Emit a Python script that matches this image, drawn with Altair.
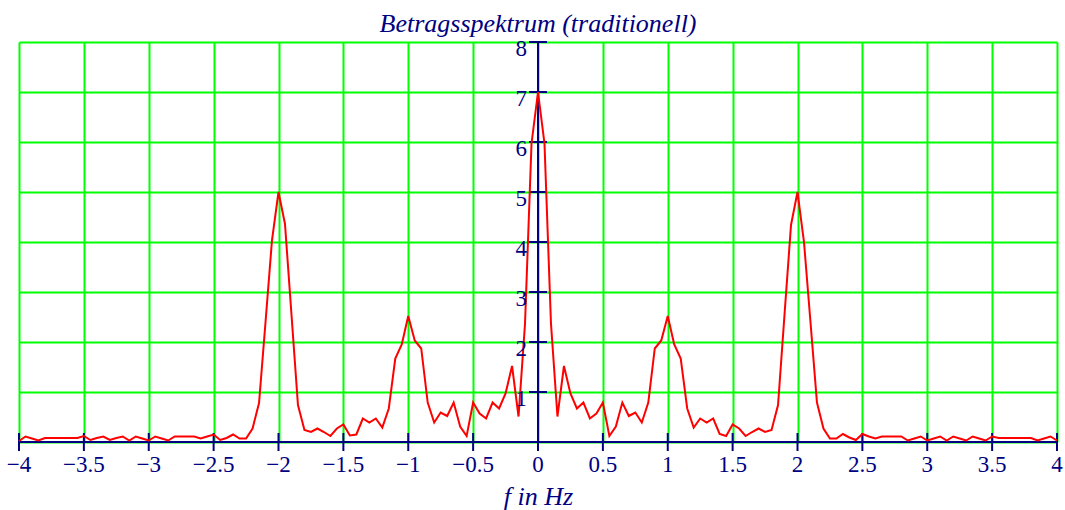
import altair as alt
import pandas as pd

# ---- data ----
freq = [round(-4 + 0.05 * i, 2) for i in range(161)]  # frequency grid, step 0.05 Hz

magnitude = [
    # -4.00 .. -3.55
    0.02, 0.11, 0.07, 0.03, 0.08, 0.08, 0.08, 0.08, 0.08, 0.08,
    # -3.50 .. -3.05
    0.12, 0.04, 0.08, 0.11, 0.04, 0.08, 0.11, 0.03, 0.11, 0.07,
    # -3.00 .. -2.55
    0.03, 0.11, 0.07, 0.03, 0.11, 0.11, 0.11, 0.11, 0.07, 0.11,
    # -2.50 .. -2.05
    0.15, 0.04, 0.08, 0.15, 0.07, 0.07, 0.27, 0.78, 2.40, 4.04,
    # -2.00 .. -1.55
    5.00, 4.36, 2.55, 0.74, 0.24, 0.20, 0.27, 0.20, 0.12, 0.27,
    # -1.50 .. -1.05
    0.35, 0.13, 0.15, 0.47, 0.39, 0.47, 0.29, 0.67, 1.67, 1.95,
    # -1.00 .. -0.55
    2.52, 2.03, 1.87, 0.79, 0.39, 0.59, 0.52, 0.79, 0.31, 0.12,
    # -0.50 .. -0.05
    0.79, 0.57, 0.47, 0.79, 0.67, 0.97, 1.52, 0.51, 2.37, 5.97,
    # 0.00
    7.00,
    # 0.05 .. 0.50
    5.97, 2.37, 0.51, 1.52, 0.97, 0.67, 0.79, 0.47, 0.57, 0.79,
    # 0.55 .. 1.00
    0.12, 0.31, 0.79, 0.52, 0.59, 0.39, 0.79, 1.87, 2.03, 2.52,
    # 1.05 .. 1.50
    1.95, 1.67, 0.67, 0.29, 0.47, 0.39, 0.47, 0.16, 0.12, 0.35,
    # 1.55 .. 2.00
    0.27, 0.12, 0.20, 0.27, 0.20, 0.24, 0.74, 2.55, 4.34, 5.00,
    # 2.05 .. 2.50
    4.00, 2.40, 0.79, 0.27, 0.07, 0.07, 0.16, 0.09, 0.04, 0.16,
    # 2.55 .. 3.00
    0.11, 0.07, 0.11, 0.11, 0.11, 0.11, 0.03, 0.07, 0.11, 0.03,
    # 3.05 .. 3.50
    0.07, 0.11, 0.03, 0.11, 0.07, 0.03, 0.11, 0.07, 0.03, 0.11,
    # 3.55 .. 4.00
    0.08, 0.08, 0.08, 0.08, 0.08, 0.08, 0.03, 0.07, 0.11, 0.03,
]

x_ticks = [-4, -3.5, -3, -2.5, -2, -1.5, -1, -0.5, 0, 0.5, 1, 1.5, 2, 2.5, 3, 3.5, 4]
x_tick_labels = ["\u22124", "\u22123.5", "\u22123", "\u22122.5", "\u22122", "\u22121.5",
                 "\u22121", "\u22120.5", "0", "0.5", "1", "1.5", "2", "2.5", "3", "3.5", "4"]
y_grid = [0, 1, 2, 3, 4, 5, 6, 7, 8]
y_ticks = [1, 2, 3, 4, 5, 6, 7, 8]
y_tick_labels = ["1", "2", "3", "4", "5", "6", "7", "8"]

# ---- styling ----
NAVY = "#000080"
GREEN = "#00ff00"
FONT = "Liberation Serif"

x_scale = alt.Scale(domain=[x_ticks[0], x_ticks[-1]], nice=False, zero=False)
y_scale = alt.Scale(domain=[y_grid[0], y_grid[-1]], nice=False, zero=False)

spec_df = pd.DataFrame({"f": freq, "A": magnitude})
xt_df = pd.DataFrame({"f": x_ticks, "A": [0] * len(x_ticks), "label": x_tick_labels})
yt_df = pd.DataFrame({"f": [0] * len(y_ticks), "A": y_ticks, "label": y_tick_labels})
xaxis_df = pd.DataFrame({"f": [x_ticks[0]], "f2": [x_ticks[-1]], "A": [0]})
yaxis_df = pd.DataFrame({"f": [0], "A": [y_grid[0]], "A2": [y_grid[-1]]})

line = alt.Chart(spec_df).mark_line(color="#ff0000", strokeWidth=2).encode(
    x=alt.X("f:Q", scale=x_scale,
            axis=alt.Axis(values=x_ticks, grid=True, gridColor=GREEN, gridWidth=2,
                          gridOpacity=1, labels=False, ticks=False, domain=False,
                          title="f in Hz", titleFont=FONT, titleFontStyle="italic",
                          titleFontWeight="normal", titleFontSize=26, titleColor=NAVY,
                          titleBaseline="alphabetic", titleY=62)),
    y=alt.Y("A:Q", scale=y_scale,
            axis=alt.Axis(values=y_grid, grid=True, gridColor=GREEN, gridWidth=2,
                          gridOpacity=1, labels=False, ticks=False, domain=False,
                          title=None)),
)

x_axis_line = alt.Chart(xaxis_df).mark_rule(color=NAVY, strokeWidth=2).encode(
    x=alt.X("f:Q", scale=x_scale), x2="f2:Q", y=alt.Y("A:Q", scale=y_scale)
)
y_axis_line = alt.Chart(yaxis_df).mark_rule(color=NAVY, strokeWidth=2).encode(
    x=alt.X("f:Q", scale=x_scale), y=alt.Y("A:Q", scale=y_scale), y2="A2:Q"
)

x_tick_marks = alt.Chart(xt_df).mark_tick(
    orient="vertical", size=18, thickness=2, color=NAVY, opacity=1
).encode(x=alt.X("f:Q", scale=x_scale), y=alt.Y("A:Q", scale=y_scale))

y_tick_marks = alt.Chart(yt_df).mark_tick(
    orient="horizontal", size=18, thickness=2, color=NAVY, opacity=1
).encode(x=alt.X("f:Q", scale=x_scale), y=alt.Y("A:Q", scale=y_scale))

x_labels = alt.Chart(xt_df).mark_text(
    font=FONT, fontSize=23, color=NAVY, align="center", baseline="alphabetic", dy=30
).encode(x=alt.X("f:Q", scale=x_scale), y=alt.Y("A:Q", scale=y_scale), text="label:N")

y_labels = alt.Chart(yt_df).mark_text(
    font=FONT, fontSize=23, color=NAVY, align="right", baseline="alphabetic", dx=-11, dy=14
).encode(x=alt.X("f:Q", scale=x_scale), y=alt.Y("A:Q", scale=y_scale), text="label:N")

chart = alt.layer(
    x_axis_line, y_axis_line, x_tick_marks, y_tick_marks, line, x_labels, y_labels
).properties(
    width=1038,
    height=400,
    title=alt.TitleParams(
        "Betragsspektrum (traditionell)", font=FONT, fontSize=26, fontStyle="italic",
        fontWeight="normal", color=NAVY, anchor="middle", baseline="alphabetic",
        offset=12, dy=32
    ),
    autosize=alt.AutoSizeParams(type="none"),
    padding={"left": 19, "top": 42, "right": 8, "bottom": 68},
    background="white",
).configure_view(stroke=None)

chart.save("out.html", embed_options={"renderer": "svg", "actions": False})
